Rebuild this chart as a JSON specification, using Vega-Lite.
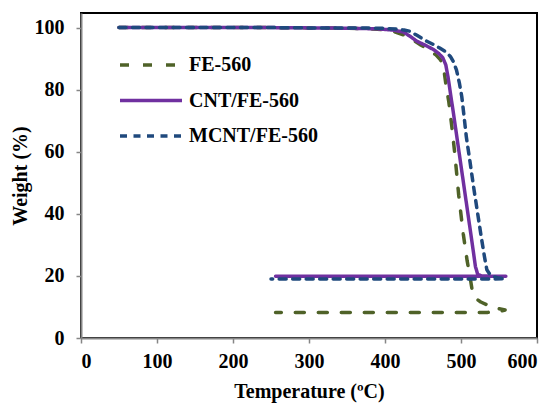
{
  "$schema": "https://vega.github.io/schema/vega-lite/v6.json",
  "width": 456,
  "height": 325,
  "autosize": "none",
  "padding": {"left": 81, "top": 13, "right": 18, "bottom": 65},
  "background": "white",
  "config": {
    "font": "Liberation Serif",
    "view": {"stroke": "black", "strokeWidth": 2},
    "axis": {
      "labelFont": "Liberation Serif", "labelFontWeight": "bold", "labelFontSize": 20, "labelColor": "black",
      "titleFont": "Liberation Serif", "titleFontWeight": "bold", "titleFontSize": 20, "titleColor": "black",
      "domainColor": "#868686", "domainWidth": 2, "tickColor": "#868686", "tickWidth": 1.5, "tickSize": 5, "grid": false
    }
  },
  "data": {"values": [
    {"s":"FE-560","i":1,"t":50,"w":100},{"s":"FE-560","i":2,"t":150,"w":100},{"s":"FE-560","i":3,"t":250,"w":100},
    {"s":"FE-560","i":4,"t":300,"w":99.9},{"s":"FE-560","i":5,"t":350,"w":99.8},{"s":"FE-560","i":6,"t":390,"w":99.5},
    {"s":"FE-560","i":7,"t":410,"w":98.9},{"s":"FE-560","i":8,"t":425,"w":97.6},{"s":"FE-560","i":9,"t":437,"w":96.0},
    {"s":"FE-560","i":10,"t":447,"w":94.4},{"s":"FE-560","i":11,"t":458,"w":92.8},{"s":"FE-560","i":12,"t":467,"w":91.2},
    {"s":"FE-560","i":13,"t":473,"w":89.6},{"s":"FE-560","i":14,"t":477,"w":87.3},{"s":"FE-560","i":15,"t":480,"w":82},
    {"s":"FE-560","i":16,"t":484,"w":76},{"s":"FE-560","i":17,"t":488,"w":68},{"s":"FE-560","i":18,"t":492,"w":59},
    {"s":"FE-560","i":19,"t":497,"w":46},{"s":"FE-560","i":20,"t":503,"w":33.5},{"s":"FE-560","i":21,"t":508,"w":25},
    {"s":"FE-560","i":22,"t":512,"w":19.5},{"s":"FE-560","i":23,"t":515,"w":15},{"s":"FE-560","i":24,"t":519,"w":12.8},
    {"s":"FE-560","i":25,"t":526,"w":11.6},{"s":"FE-560","i":26,"t":535,"w":10.6},{"s":"FE-560","i":27,"t":546,"w":9.7},
    {"s":"FE-560","i":28,"t":558,"w":9.0},{"s":"FE-560","i":29,"t":548,"w":8.4},{"s":"FE-560","i":30,"t":535,"w":8.25},
    {"s":"FE-560","i":31,"t":500,"w":8.2},{"s":"FE-560","i":32,"t":400,"w":8.2},{"s":"FE-560","i":33,"t":300,"w":8.2},
    {"s":"FE-560","i":34,"t":256,"w":8.2},

    {"s":"CNT/FE-560","i":1,"t":50,"w":100},{"s":"CNT/FE-560","i":2,"t":150,"w":100},{"s":"CNT/FE-560","i":3,"t":250,"w":100},
    {"s":"CNT/FE-560","i":4,"t":300,"w":99.9},{"s":"CNT/FE-560","i":5,"t":350,"w":99.8},{"s":"CNT/FE-560","i":6,"t":390,"w":99.6},
    {"s":"CNT/FE-560","i":7,"t":410,"w":99.2},{"s":"CNT/FE-560","i":8,"t":424,"w":98.6},{"s":"CNT/FE-560","i":9,"t":433,"w":97.2},
    {"s":"CNT/FE-560","i":10,"t":442,"w":95.6},{"s":"CNT/FE-560","i":11,"t":454,"w":94.2},{"s":"CNT/FE-560","i":12,"t":464,"w":92.9},
    {"s":"CNT/FE-560","i":13,"t":471,"w":91.6},{"s":"CNT/FE-560","i":14,"t":476,"w":90.3},{"s":"CNT/FE-560","i":15,"t":480,"w":88},
    {"s":"CNT/FE-560","i":16,"t":483,"w":84},{"s":"CNT/FE-560","i":17,"t":486,"w":79},{"s":"CNT/FE-560","i":18,"t":490,"w":72.5},
    {"s":"CNT/FE-560","i":19,"t":495,"w":64},{"s":"CNT/FE-560","i":20,"t":500,"w":55.5},{"s":"CNT/FE-560","i":21,"t":505,"w":47},
    {"s":"CNT/FE-560","i":22,"t":510,"w":38.5},{"s":"CNT/FE-560","i":23,"t":515,"w":30},{"s":"CNT/FE-560","i":24,"t":519,"w":23},
    {"s":"CNT/FE-560","i":25,"t":522,"w":20.5},{"s":"CNT/FE-560","i":26,"t":527,"w":20.0},{"s":"CNT/FE-560","i":27,"t":540,"w":19.9},
    {"s":"CNT/FE-560","i":28,"t":559,"w":19.9},{"s":"CNT/FE-560","i":29,"t":540,"w":19.9},{"s":"CNT/FE-560","i":30,"t":500,"w":19.9},
    {"s":"CNT/FE-560","i":31,"t":400,"w":19.9},{"s":"CNT/FE-560","i":32,"t":300,"w":19.9},{"s":"CNT/FE-560","i":33,"t":256,"w":19.9},

    {"s":"MCNT/FE-560","i":1,"t":50,"w":100},{"s":"MCNT/FE-560","i":2,"t":150,"w":100},{"s":"MCNT/FE-560","i":3,"t":250,"w":100},
    {"s":"MCNT/FE-560","i":4,"t":300,"w":99.9},{"s":"MCNT/FE-560","i":5,"t":350,"w":99.9},{"s":"MCNT/FE-560","i":6,"t":394,"w":99.8},
    {"s":"MCNT/FE-560","i":7,"t":415,"w":99.5},{"s":"MCNT/FE-560","i":8,"t":425,"w":99.2},{"s":"MCNT/FE-560","i":9,"t":433,"w":98.8},
    {"s":"MCNT/FE-560","i":10,"t":442,"w":97.5},{"s":"MCNT/FE-560","i":11,"t":455,"w":95.6},{"s":"MCNT/FE-560","i":12,"t":464,"w":94.5},
    {"s":"MCNT/FE-560","i":13,"t":472,"w":93.4},{"s":"MCNT/FE-560","i":14,"t":480,"w":92.2},{"s":"MCNT/FE-560","i":15,"t":486,"w":90.7},
    {"s":"MCNT/FE-560","i":16,"t":490,"w":89},{"s":"MCNT/FE-560","i":17,"t":494,"w":86.4},{"s":"MCNT/FE-560","i":18,"t":498,"w":82},
    {"s":"MCNT/FE-560","i":19,"t":501,"w":77.8},{"s":"MCNT/FE-560","i":20,"t":504,"w":71.5},{"s":"MCNT/FE-560","i":21,"t":507,"w":64.8},
    {"s":"MCNT/FE-560","i":22,"t":512,"w":56.5},{"s":"MCNT/FE-560","i":23,"t":517,"w":48},{"s":"MCNT/FE-560","i":24,"t":522,"w":40},
    {"s":"MCNT/FE-560","i":25,"t":527,"w":32},{"s":"MCNT/FE-560","i":26,"t":531,"w":26},{"s":"MCNT/FE-560","i":27,"t":534,"w":22},
    {"s":"MCNT/FE-560","i":28,"t":538,"w":20.5},{"s":"MCNT/FE-560","i":29,"t":544,"w":19.7},{"s":"MCNT/FE-560","i":30,"t":550,"w":19.3},
    {"s":"MCNT/FE-560","i":31,"t":558,"w":19.1},{"s":"MCNT/FE-560","i":32,"t":545,"w":19.0},{"s":"MCNT/FE-560","i":33,"t":500,"w":19.0},
    {"s":"MCNT/FE-560","i":34,"t":400,"w":19.0},{"s":"MCNT/FE-560","i":35,"t":300,"w":19.0},{"s":"MCNT/FE-560","i":36,"t":250,"w":19.0}
  ]},
  "mark": {"type": "line", "strokeCap": "round", "strokeJoin": "round", "strokeWidth": 3.5},
  "encoding": {
    "x": {"field": "t", "type": "quantitative",
      "scale": {"domain": [0, 600], "nice": false, "zero": false},
      "axis": {"title": "Temperature (ºC)", "values": [0, 100, 200, 300, 400, 500, 600], "labelPadding": 8, "titlePadding": 10}},
    "y": {"field": "w", "type": "quantitative",
      "scale": {"domain": [0, 104.7], "nice": false},
      "axis": {"title": "Weight (%)", "values": [0, 20, 40, 60, 80, 100], "labelPadding": 12, "titlePadding": 4}},
    "color": {"field": "s", "type": "nominal",
      "scale": {"domain": ["FE-560", "CNT/FE-560", "MCNT/FE-560"], "range": ["#4F6228", "#7030A0", "#1F497D"]},
      "legend": {"title": null, "orient": "none", "legendX": 37, "legendY": 41, "padding": 0,
        "symbolType": "stroke", "symbolSize": 3844, "symbolStrokeWidth": 3.5, "clipHeight": 22,
        "labelFont": "Liberation Serif", "labelFontWeight": "bold", "labelFontSize": 20, "labelColor": "black",
        "labelOffset": 5, "rowPadding": 13.5}},
    "strokeDash": {"field": "s", "type": "nominal",
      "scale": {"domain": ["FE-560", "CNT/FE-560", "MCNT/FE-560"], "range": [[9, 14], [1, 0], [7, 6.5]]},
      "legend": {"title": null, "orient": "none", "legendX": 37, "legendY": 41, "padding": 0,
        "symbolType": "stroke", "symbolSize": 3844, "symbolStrokeWidth": 3.5, "clipHeight": 22,
        "labelFont": "Liberation Serif", "labelFontWeight": "bold", "labelFontSize": 20, "labelColor": "black",
        "labelOffset": 5, "rowPadding": 13.5}},
    "order": {"field": "i", "type": "quantitative"}
  }
}
